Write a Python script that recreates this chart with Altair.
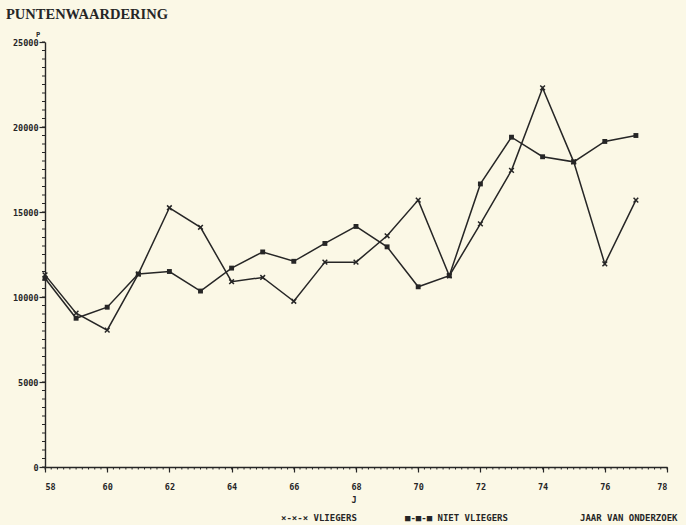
import altair as alt
import pandas as pd

years = list(range(58, 78))
vliegers = [11300, 9050, 8050, 11350, 15250, 14100, 10900, 11150, 9750, 12050,
            12050, 13600, 15700, 11250, 14300, 17450, 22300, 17950, 11950, 15700]
niet_vliegers = [11100, 8750, 9400, 11350, 11500, 10350, 11700, 12650, 12100, 13150,
                 14150, 12950, 10600, 11250, 16650, 19400, 18250, 17950, 19150, 19500]
x_ticks = list(range(58, 80, 2))
y_ticks = [0, 5000, 10000, 15000, 20000, 25000]
x_minor = [round(58 + 0.2 * i, 1) for i in range(101)]
y_minor = [500 * i for i in range(51)]

INK = "#262626"
BG = "#fbf8e6"
MONO = "DejaVu Sans Mono"

df = pd.DataFrame({
    "jaar": years * 2,
    "p": vliegers + niet_vliegers,
    "serie": ["VLIEGERS"] * len(years) + ["NIET VLIEGERS"] * len(years),
})

W, H = 622, 425
xs = alt.Scale(domain=[58, 78], nice=False, zero=False)
ys = alt.Scale(domain=[0, 25000], nice=False)

xaxis = alt.Axis(values=x_ticks, format="d", title=None, grid=False,
                 labelFont=MONO, labelFontWeight="bold", labelFontSize=8.5,
                 labelColor=INK, tickColor=INK, domainColor=INK, tickSize=5,
                 tickWidth=1.2, domainWidth=1.4, labelPadding=10)
yaxis = alt.Axis(values=y_ticks, format="d", title=None, grid=False,
                 labelFont=MONO, labelFontWeight="bold", labelFontSize=8.5,
                 labelColor=INK, tickColor=INK, domainColor=INK, tickSize=6,
                 tickWidth=1.2, domainWidth=1.4, labelPadding=1)

base = alt.Chart(df)

lines = base.mark_line(color=INK, strokeWidth=1.5).encode(
    x=alt.X("jaar:Q", scale=xs, axis=xaxis),
    y=alt.Y("p:Q", scale=ys, axis=yaxis),
    detail="serie:N",
)

crosses = base.transform_filter(alt.datum.serie == "VLIEGERS").mark_point(
    shape="M-1,-1L1,1M-1,1L1,-1", size=22, filled=False, color=INK, strokeWidth=1.5, opacity=1
).encode(x=alt.X("jaar:Q", scale=xs), y=alt.Y("p:Q", scale=ys))

squares = base.transform_filter(alt.datum.serie == "NIET VLIEGERS").mark_point(
    shape="square", size=24, filled=True, color=INK, opacity=1
).encode(x=alt.X("jaar:Q", scale=xs), y=alt.Y("p:Q", scale=ys))

xminor = alt.Chart(pd.DataFrame({"t": x_minor})).mark_rule(color=INK, strokeWidth=1).encode(
    x=alt.X("t:Q", scale=xs), y=alt.value(H), y2=alt.value(H + 2.5))
yminor = alt.Chart(pd.DataFrame({"t": y_minor})).mark_rule(color=INK, strokeWidth=1).encode(
    y=alt.Y("t:Q", scale=ys), x=alt.value(-3), x2=alt.value(0))

def txt(s, x, y, font=MONO, size=8.5, weight="bold", align="left"):
    return alt.Chart(pd.DataFrame({"s": [s]})).mark_text(
        font=font, fontSize=size, fontWeight=weight, align=align, baseline="middle", color=INK
    ).encode(text="s:N", x=alt.value(x), y=alt.value(y))

title = txt("PUNTENWAARDERING", -39, -27, font="Liberation Serif", size=14.5, weight="bold")
ptitle = txt("P", -9, -7, size=7)
jtitle = txt("J", 354 - 45, 500 - 42, align="center")
leg1 = txt("×-×-× VLIEGERS", 281 - 45, 518 - 42, size=9)
leg2 = txt("■-■-■ NIET VLIEGERS", 405 - 45, 518 - 42, size=9)
leg3 = txt("JAAR VAN ONDERZOEK", 580 - 45, 518 - 42, size=9)

chart = alt.layer(
    xminor, yminor, lines, crosses, squares, title, ptitle, jtitle, leg1, leg2, leg3
).properties(
    width=W, height=H,
    autosize=alt.AutoSizeParams(type="none"),
    padding={"left": 45, "top": 42, "right": 686 - 45 - W, "bottom": 525 - 42 - H},
    background=BG,
).configure_view(stroke=None)

chart.save("out.html", embed_options={"renderer": "svg", "actions": False})
